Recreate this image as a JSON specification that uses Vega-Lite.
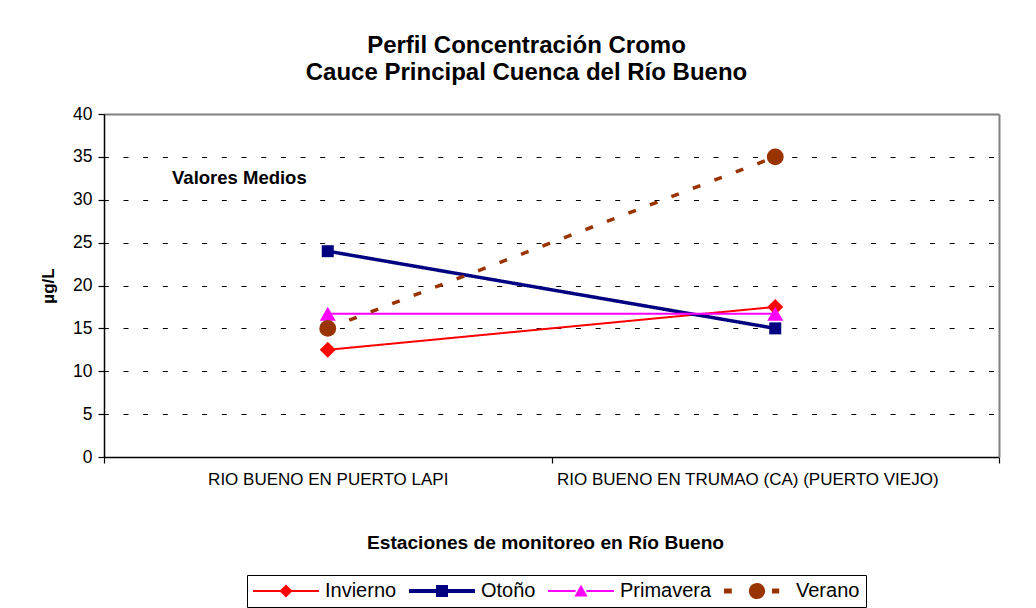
{
  "$schema": "https://vega.github.io/schema/vega-lite/v6.json",
  "width": 895,
  "height": 343,
  "autosize": {"type": "none"},
  "padding": {"left": 104, "top": 114, "right": 37, "bottom": 151},
  "background": "white",
  "title": {
    "text": ["Perfil Concentración Cromo", "Cauce Principal Cuenca del Río Bueno"],
    "font": "Liberation Sans",
    "fontSize": 24,
    "fontWeight": "bold",
    "color": "black",
    "anchor": "middle",
    "frame": "group",
    "dx": -25,
    "lineHeight": 27.7,
    "baseline": "bottom",
    "offset": -4.5
  },
  "config": {
    "font": "Liberation Sans",
    "view": {"stroke": null},
    "axis": {"labelColor": "black", "titleColor": "black", "domainColor": "black", "tickColor": "black", "labelFont": "Liberation Sans", "titleFont": "Liberation Sans"}
  },
  "data": {
    "values": [
      {"estacion": "RIO BUENO EN PUERTO LAPI", "serie": "Invierno", "valor": 12.5},
      {"estacion": "RIO BUENO EN TRUMAO (CA)  (PUERTO VIEJO)", "serie": "Invierno", "valor": 17.5},
      {"estacion": "RIO BUENO EN PUERTO LAPI", "serie": "Otoño", "valor": 24},
      {"estacion": "RIO BUENO EN TRUMAO (CA)  (PUERTO VIEJO)", "serie": "Otoño", "valor": 15},
      {"estacion": "RIO BUENO EN PUERTO LAPI", "serie": "Primavera", "valor": 16.7},
      {"estacion": "RIO BUENO EN TRUMAO (CA)  (PUERTO VIEJO)", "serie": "Primavera", "valor": 16.7},
      {"estacion": "RIO BUENO EN PUERTO LAPI", "serie": "Verano", "valor": 15},
      {"estacion": "RIO BUENO EN TRUMAO (CA)  (PUERTO VIEJO)", "serie": "Verano", "valor": 35}
    ]
  },
  "resolve": {"axis": {"x": "independent", "y": "independent"}},
  "layer": [
    {
      "mark": {"type": "line", "strokeCap": "butt"},
      "encoding": {
        "x": {
          "field": "estacion", "type": "nominal",
          "sort": ["RIO BUENO EN PUERTO LAPI", "RIO BUENO EN TRUMAO (CA)  (PUERTO VIEJO)"],
          "scale": {"type": "band", "paddingInner": 0, "paddingOuter": 0},
          "axis": {
            "orient": "bottom",
            "title": "Estaciones de monitoreo en Río Bueno",
            "titleFontSize": 19.2, "titleFontWeight": "bold", "titlePadding": 46, "titleX": 441,
            "labelFontSize": 17, "labelFontWeight": "normal", "labelAngle": 0, "labelLimit": 0, "labelPadding": 8,
            "labelOffset": {"condition": {"test": "datum.value !== 'RIO BUENO EN PUERTO LAPI'", "value": -28}, "value": 0},
            "tickSize": 6, "tickBand": "extent", "domainWidth": 1.5, "tickWidth": 1.2, "grid": false
          }
        },
        "y": {
          "field": "valor", "type": "quantitative",
          "scale": {"domain": [0, 40], "nice": false},
          "axis": {
            "title": "µg/L",
            "values": [0, 5, 10, 15, 20, 25, 30, 35, 40],
            "grid": true, "gridColor": "black", "gridDash": [5, 14.67], "gridDashOffset": 0.67, "gridWidth": 1,
            "labelFontSize": 17.5, "labelPadding": 6, "tickSize": 6, "tickWidth": 1.2,
            "titleFontSize": 17, "titleFontWeight": "bold", "titlePadding": 15,
            "domainWidth": 1.5
          }
        },
        "color": {
          "field": "serie", "type": "nominal",
          "scale": {"domain": ["Invierno", "Otoño", "Primavera", "Verano"], "range": ["#FF0000", "#000080", "#FF00FF", "#993300"]},
          "legend": {
            "title": null,
            "orient": "none",
            "legendX": 143,
            "legendY": 461,
            "direction": "horizontal",
            "labelFont": "Liberation Sans",
            "labelFontSize": 20,
            "labelColor": "black",
            "symbolSize": 144,
            "symbolStrokeWidth": 0,
            "symbolOffset": 23,
            "labelOffset": 29,
            "columnPadding": 12,
            "padding": 6,
            "strokeColor": "black",
            "fillColor": "white",
            "encode": {
              "symbols": {
                "update": {
                  "shape": {"signal": "datum.value === 'Invierno' ? 'M-5.5,-0.17H-0.9V0.17H-5.5Z M0.9,-0.17H5.5V0.17H0.9Z M0,-1.1L1.1,0L0,1.1L-1.1,0Z' : datum.value === 'Otoño' ? 'M-5.5,-0.33H-0.9V0.33H-5.5Z M0.9,-0.33H5.5V0.33H0.9Z M-1,-1H1V1H-1Z' : datum.value === 'Primavera' ? 'M-5.5,-0.15H-0.9V0.15H-5.5Z M0.9,-0.15H5.5V0.15H0.9Z M0,-1.05L1.1,0.9H-1.1Z' : 'M-5.5,-0.4H-4.2V0.4H-5.5Z M2.5,-0.4H3.7V0.4H2.5Z M-1.35,0A1.35,1.35,0,1,1,1.35,0A1.35,1.35,0,1,1,-1.35,0Z'"},
                  "fill": {"scale": "color", "field": "value"},
                  "stroke": {"value": "transparent"},
                  "strokeWidth": {"value": 0},
                  "opacity": {"value": 1},
                  "size": {"value": 144}
                }
              }
            }
          }
        },
        "strokeDash": {
          "condition": {"test": "datum.serie === 'Verano'", "value": [8, 15]},
          "value": [1, 0]
        },
        "strokeWidth": {
          "condition": [
            {"test": "datum.serie === 'Otoño'", "value": 3.5},
            {"test": "datum.serie === 'Verano'", "value": 3.5}
          ],
          "value": 2
        }
      }
    },
    {
      "mark": {"type": "point", "filled": true, "opacity": 1},
      "encoding": {
        "x": {
          "field": "estacion", "type": "nominal",
          "sort": ["RIO BUENO EN PUERTO LAPI", "RIO BUENO EN TRUMAO (CA)  (PUERTO VIEJO)"],
          "axis": {"orient": "top", "labels": false, "ticks": false, "domainColor": "#808080", "domainWidth": 2, "title": null, "grid": false}
        },
        "y": {
          "field": "valor", "type": "quantitative",
          "axis": {"orient": "right", "labels": false, "ticks": false, "domainColor": "#808080", "domainWidth": 2, "title": null, "grid": false}
        },
        "color": {"field": "serie", "type": "nominal"},
        "shape": {
          "condition": [
            {"test": "datum.serie === 'Invierno'", "value": "diamond"},
            {"test": "datum.serie === 'Otoño'", "value": "square"},
            {"test": "datum.serie === 'Primavera'", "value": "triangle-up"}
          ],
          "value": "circle"
        },
        "size": {
          "condition": [
            {"test": "datum.serie === 'Otoño'", "value": 144},
            {"test": "datum.serie === 'Verano'", "value": 285}
          ],
          "value": 256
        }
      }
    },
    {
      "data": {"values": [{"t": "Valores Medios", "estacion": "RIO BUENO EN PUERTO LAPI", "valor": 32.5}]},
      "mark": {"type": "text", "align": "left", "baseline": "middle", "font": "Liberation Sans", "fontSize": 18.5, "fontWeight": "bold", "color": "black"},
      "encoding": {
        "x": {"field": "estacion", "type": "nominal", "bandPosition": 0.152, "sort": ["RIO BUENO EN PUERTO LAPI", "RIO BUENO EN TRUMAO (CA)  (PUERTO VIEJO)"], "axis": null},
        "y": {"field": "valor", "type": "quantitative", "axis": null},
        "text": {"field": "t"}
      }
    }
  ]
}
